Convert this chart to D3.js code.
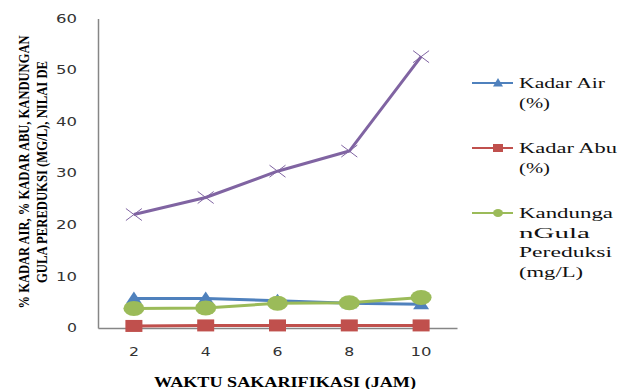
<!DOCTYPE html>
<html>
<head>
<meta charset="utf-8">
<script src="https://cdn.jsdelivr.net/npm/d3@7"></script>
<style>
  html, body { margin: 0; padding: 0; background: #fff; }
  svg { display: block; }
</style>
</head>
<body>
<svg id="chart" width="619" height="389"></svg>
<script>
// Saccharification time (hours)
const categories = ["2", "4", "6", "8", "10"];
// Series values
const kadarAir = [5.7, 5.7, 5.3, 4.8, 4.6];      // water content (%)
const kadarAbu = [0.4, 0.5, 0.5, 0.5, 0.5];      // ash content (%)
const gulaPereduksi = [3.8, 3.9, 4.8, 4.9, 5.9]; // reducing sugar (mg/L)
const nilaiDE = [22.0, 25.3, 30.4, 34.3, 52.6];  // DE value
const yTicks = [0, 10, 20, 30, 40, 50, 60];

const legendLabels = [
  ["Kadar Air", "(%)"],
  ["Kadar Abu", "(%)"],
  ["Kandunga", "nGula", "Pereduksi", "(mg/L)"]
];
// rendered width of each legend line
const legendWidths = [
  [86, 31],
  [98, 31],
  [94, 71, 93, 64]
];

const svg = d3.select("#chart");

const x = d3.scaleBand().domain(categories).range([98, 457]);
const y = d3.scaleLinear().domain([0, 60]).range([328, 18.5]);
const cx = d => x(d) + x.bandwidth() / 2;

// wide tick numerals
function styleTicks(sel) {
  sel.attr("font-family", "DejaVu Sans")
    .attr("font-size", 11.5)
    .attr("fill", "#333")
    .attr("textLength", function () { return this.textContent.length * 11 - 1; })
    .attr("lengthAdjust", "spacingAndGlyphs");
}

// Axes
const yAxis = d3.axisLeft(y).tickValues(yTicks).tickSize(0).tickPadding(21);
const gy = svg.append("g").attr("transform", "translate(98,0)").call(yAxis);
gy.select(".domain").attr("stroke", "#868686").attr("stroke-width", 1.5);
styleTicks(gy.selectAll("text"));

const xAxis = d3.axisBottom(x).tickSize(0).tickPadding(20);
const gx = svg.append("g").attr("transform", "translate(0,328)").call(xAxis);
gx.select(".domain").attr("stroke", "#868686").attr("stroke-width", 1.5);
styleTicks(gx.selectAll("text"));

// Axis titles
svg.append("text")
  .attr("x", 285).attr("y", 387)
  .attr("text-anchor", "middle")
  .attr("font-family", "Liberation Serif")
  .attr("font-weight", "bold")
  .attr("font-size", 14)
  .attr("textLength", 262).attr("lengthAdjust", "spacingAndGlyphs")
  .text("WAKTU SAKARIFIKASI (JAM)");

const yTitle = svg.append("g").attr("transform", "translate(0,172) rotate(-90)");
yTitle.append("text")
  .attr("x", 0).attr("y", 29)
  .attr("text-anchor", "middle")
  .attr("font-family", "Liberation Serif")
  .attr("font-weight", "bold")
  .attr("font-size", 14)
  .attr("textLength", 273).attr("lengthAdjust", "spacingAndGlyphs")
  .text("% KADAR AIR, % KADAR ABU, KANDUNGAN");
yTitle.append("text")
  .attr("x", 0).attr("y", 47)
  .attr("text-anchor", "middle")
  .attr("font-family", "Liberation Serif")
  .attr("font-weight", "bold")
  .attr("font-size", 14)
  .attr("textLength", 222).attr("lengthAdjust", "spacingAndGlyphs")
  .text("GULA PEREDUKSI (MG/L), NILAI DE");

// Marker shapes
function marker(g, type, color, sx, sy) {
  if (type === "triangle") {
    g.append("path")
      .attr("d", `M0,${-sy}L${sx},${sy * 0.7}L${-sx},${sy * 0.7}Z`)
      .attr("fill", color);
  } else if (type === "square") {
    g.append("rect")
      .attr("x", -sx).attr("y", -sy).attr("width", 2 * sx).attr("height", 2 * sy)
      .attr("fill", color);
  } else if (type === "circle") {
    g.append("ellipse").attr("rx", sx).attr("ry", sy).attr("fill", color);
  } else if (type === "cross") {
    g.append("path")
      .attr("d", `M${-sx},${-sy}L${sx},${sy}M${-sx},${sy}L${sx},${-sy}`)
      .attr("stroke", color).attr("stroke-width", 1).attr("fill", "none");
  }
}

const series = [
  { values: nilaiDE, color: "#8064A2", type: "cross", width: 3, sx: 8, sy: 6 },
  { values: kadarAir, color: "#4F81BD", type: "triangle", width: 3, sx: 8, sy: 7 },
  { values: kadarAbu, color: "#C0504D", type: "square", width: 3, sx: 8.5, sy: 6 },
  { values: gulaPereduksi, color: "#9BBB59", type: "circle", width: 3, sx: 10.5, sy: 7.5 }
];

const line = d3.line().x(d => cx(d.c)).y(d => y(d.v));

series.forEach(s => {
  const pts = categories.map((c, i) => ({ c, v: s.values[i] }));
  svg.append("path")
    .datum(pts)
    .attr("d", line)
    .attr("fill", "none")
    .attr("stroke", s.color)
    .attr("stroke-width", s.width)
    .attr("stroke-linejoin", "round");
  pts.forEach(p => {
    const g = svg.append("g").attr("transform", `translate(${cx(p.c)},${y(p.v)})`);
    marker(g, s.type, s.color, s.sx, s.sy);
  });
});

// Legend
const legendItems = [
  { color: "#4F81BD", type: "triangle", y: 83, sx: 5, sy: 5 },
  { color: "#C0504D", type: "square", y: 148, sx: 5, sy: 4 },
  { color: "#9BBB59", type: "circle", y: 213, sx: 5, sy: 4 }
];
legendItems.forEach((it, i) => {
  const g = svg.append("g");
  g.append("line")
    .attr("x1", 472).attr("x2", 513).attr("y1", it.y).attr("y2", it.y)
    .attr("stroke", it.color).attr("stroke-width", 2);
  const m = g.append("g").attr("transform", `translate(498,${it.y})`);
  marker(m, it.type, it.color, it.sx, it.sy);
  legendLabels[i].forEach((t, j) => {
    g.append("text")
      .attr("x", 519).attr("y", it.y + 5 + j * 19.5)
      .attr("font-family", "Liberation Serif")
      .attr("font-size", 15)
      .attr("fill", "#111")
      .attr("textLength", legendWidths[i][j])
      .attr("lengthAdjust", "spacingAndGlyphs")
      .text(t);
  });
});
</script>
</body>
</html>
